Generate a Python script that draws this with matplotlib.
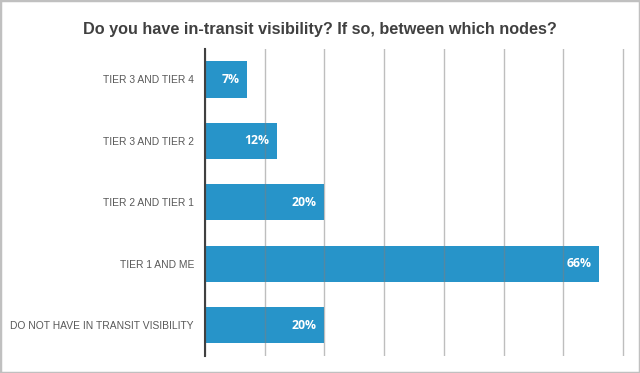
import matplotlib
matplotlib.use("Agg")
import matplotlib.pyplot as plt
from matplotlib.patches import Rectangle

# data, top to bottom as in the chart
categories = ["TIER 3 AND TIER 4", "TIER 3 AND TIER 2", "TIER 2 AND TIER 1",
              "TIER 1 AND ME", "DO NOT HAVE IN TRANSIT VISIBILITY"]
values = [7, 12, 20, 66, 20]
title = "Do you have in-transit visibility? If so, between which nodes?"

bar_color = "#2794C9"

fig = plt.figure(figsize=(6.4, 3.73), dpi=100)
ax = fig.add_axes([0.3203, 0.0464, 0.6558, 0.8228])

ypos = list(range(len(categories)))
ax.barh(ypos, values, height=0.59, color=bar_color, zorder=1)
ax.set_ylim(len(categories) - 0.5, -0.5)
ax.set_xlim(0, 70.3)

# value labels inside the bar ends
for y, v in zip(ypos, values):
    ax.annotate(f"{v}%", xy=(v, y), xytext=(-5.5, 0), textcoords="offset points",
                ha="right", va="center", color="white", fontsize=8.8,
                fontweight="bold", family=["Open Sans", "DejaVu Sans"])

# vertical grid on top of the bars
ax.set_xticks(range(0, 71, 10))
ax.xaxis.grid(True, color="#7F7F7F", alpha=0.5, lw=1, zorder=3)
ax.set_axisbelow(False)
ax.tick_params(axis="x", length=0, labelbottom=False)
ax.tick_params(axis="y", length=0, pad=8)
ax.set_yticks(ypos)
ax.set_yticklabels(categories, fontsize=7.4, color="#595959",
                   family=["Liberation Sans", "DejaVu Sans"])

for s in ["top", "right", "bottom"]:
    ax.spines[s].set_visible(False)
ax.spines["left"].set_color("#404040")
ax.spines["left"].set_linewidth(1.5)
ax.spines["left"].set_zorder(4)

fig.text(0.5, 0.922, title, ha="center", va="center", fontsize=11.7,
         fontweight="bold", color="#404040",
         family=["Liberation Sans", "DejaVu Sans"])

# light grey frame round the picture
fig.patches.append(Rectangle((0, 0), 1, 1, transform=fig.transFigure,
                             fill=False, ec="#C0C0C0", lw=2.5))

fig.savefig("out.png", dpi=100)
